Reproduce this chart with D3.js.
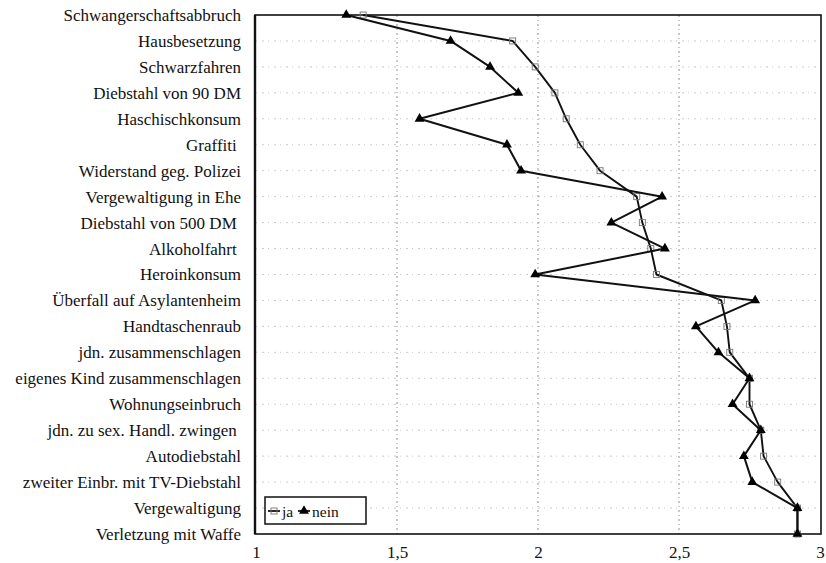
<!DOCTYPE html>
<html>
<head>
<meta charset="utf-8">
<script src="https://cdn.jsdelivr.net/npm/d3@7"></script>
<style>
  html, body { margin: 0; padding: 0; background: #fff; }
  svg text { font-family: "Liberation Serif", "Times New Roman", serif; }
</style>
</head>
<body>
<svg id="chart" width="826" height="563"></svg>
<script>
// Delikte, von oben nach unten
const categories = [
  "Schwangerschaftsabbruch",
  "Hausbesetzung",
  "Schwarzfahren",
  "Diebstahl von 90 DM",
  "Haschischkonsum",
  "Graffiti ",
  "Widerstand geg. Polizei",
  "Vergewaltigung in Ehe",
  "Diebstahl von 500 DM ",
  "Alkoholfahrt ",
  "Heroinkonsum",
  "Überfall auf Asylantenheim",
  "Handtaschenraub",
  "jdn. zusammenschlagen",
  "eigenes Kind zusammenschlagen",
  "Wohnungseinbruch",
  "jdn. zu sex. Handl. zwingen ",
  "Autodiebstahl",
  "zweiter Einbr. mit TV-Diebstahl",
  "Vergewaltigung",
  "Verletzung mit Waffe"
];

// Mittelwerte je Gruppe
const jaValues = [1.38, 1.91, 1.99, 2.06, 2.10, 2.15, 2.22, 2.35, 2.37, 2.40, 2.42,
                  2.65, 2.67, 2.68, 2.75, 2.75, 2.79, 2.80, 2.85, 2.92, 2.92];
const neinValues = [1.32, 1.69, 1.83, 1.93, 1.58, 1.89, 1.94, 2.44, 2.26, 2.45, 1.99,
                    2.77, 2.56, 2.64, 2.75, 2.69, 2.79, 2.73, 2.76, 2.92, 2.92];

const xTicks = [1, 1.5, 2, 2.5, 3];
const gridTicks = [1.5, 2, 2.5];
const seriesNames = ["ja", "nein"];

const svg = d3.select("#chart");
const plotLeft = 256, plotRight = 820, plotTop = 15, plotBottom = 534;

const x = d3.scaleLinear().domain([1, 3]).range([plotLeft, plotRight]);
const y = d3.scalePoint().domain(categories).range([plotTop, plotBottom]);
const fmt = d => String(d).replace(".", ",");

// Raster: gepunktete Linien
const grid = svg.append("g").attr("stroke", "#777").attr("stroke-width", 1);
grid.selectAll("line.h").data(categories.slice(1, -1)).join("line")
  .attr("class", "h")
  .attr("x1", plotLeft).attr("x2", plotRight)
  .attr("y1", d => y(d)).attr("y2", d => y(d))
  .attr("stroke-dasharray", "1,5,2,4")
  .attr("stroke-opacity", 0.4);
grid.selectAll("line.v").data(gridTicks).join("line")
  .attr("class", "v")
  .attr("x1", d => x(d)).attr("x2", d => x(d))
  .attr("y1", plotTop).attr("y2", plotBottom)
  .attr("stroke-dasharray", "2,3,1,3")
  .attr("stroke-opacity", 0.8);

// Rahmen
svg.append("rect")
  .attr("x", plotLeft - 1).attr("y", plotTop)
  .attr("width", plotRight - plotLeft + 2).attr("height", plotBottom - plotTop)
  .attr("fill", "none").attr("stroke", "#111").attr("stroke-width", 1.6);
svg.append("line")
  .attr("x1", plotLeft - 1).attr("x2", plotLeft - 1)
  .attr("y1", plotTop).attr("y2", plotBottom)
  .attr("stroke", "#111").attr("stroke-width", 2.4);

// Kategorienbeschriftung
const yAxis = d3.axisLeft(y).tickSize(0).tickPadding(0);
const ya = svg.append("g").attr("transform", `translate(${plotLeft - 15},0)`).call(yAxis);
ya.select(".domain").remove();
ya.selectAll("text")
  .attr("font-family", "Liberation Serif, serif")
  .attr("font-size", 17)
  .attr("fill", "#111")
  .style("white-space", "pre");

// x-Achse
const xAxis = d3.axisBottom(x).tickValues(xTicks).tickSize(0).tickPadding(0).tickFormat(fmt);
const xa = svg.append("g").attr("transform", `translate(0,${plotBottom + 12})`).call(xAxis);
xa.select(".domain").remove();
xa.selectAll("text")
  .attr("font-family", "Liberation Serif, serif")
  .attr("font-size", 17)
  .attr("fill", "#111");

const line = d3.line().x(d => x(d.v)).y(d => y(d.c));
const jaData = categories.map((c, i) => ({ c, v: jaValues[i] }));
const neinData = categories.map((c, i) => ({ c, v: neinValues[i] }));

const tri = d3.symbol().type(d3.symbolTriangle).size(42);

// Linie "ja" mit offenen Quadraten
svg.append("path").datum(jaData)
  .attr("d", line).attr("fill", "none")
  .attr("stroke", "#111").attr("stroke-width", 1.9).attr("stroke-linejoin", "round");
svg.selectAll("rect.ja").data(jaData).join("rect")
  .attr("class", "ja")
  .attr("x", d => x(d.v) - 3).attr("y", d => y(d.c) - 3)
  .attr("width", 6).attr("height", 6)
  .attr("fill", "none").attr("stroke", "#777").attr("stroke-width", 0.9);

// Linie "nein" mit gefüllten Dreiecken
svg.append("path").datum(neinData)
  .attr("d", line).attr("fill", "none")
  .attr("stroke", "#111").attr("stroke-width", 2).attr("stroke-linejoin", "round");
svg.selectAll("path.nein").data(neinData).join("path")
  .attr("class", "nein")
  .attr("transform", d => `translate(${x(d.v)},${y(d.c)})`)
  .attr("d", tri).attr("fill", "#000");

// Legende
const lg = svg.append("g").attr("transform", "translate(265,497)");
lg.append("rect").attr("width", 101).attr("height", 27)
  .attr("fill", "#fff").attr("stroke", "#111").attr("stroke-width", 1.5);
const items = lg.selectAll("g.item").data(seriesNames).join("g")
  .attr("class", "item")
  .attr("transform", (d, i) => `translate(${i === 0 ? 3 : 33},14)`);
items.append("line").attr("x1", 0).attr("x2", 12).attr("y1", 0).attr("y2", 0)
  .attr("stroke", "#111").attr("stroke-width", 1.8);
items.filter((d, i) => i === 0).append("rect")
  .attr("x", 3).attr("y", -3).attr("width", 6).attr("height", 6)
  .attr("fill", "none").attr("stroke", "#777").attr("stroke-width", 0.9);
items.filter((d, i) => i === 1).append("path")
  .attr("transform", "translate(6,0)").attr("d", tri).attr("fill", "#000");
items.append("text").attr("x", 14).attr("y", 5.5)
  .attr("font-family", "Liberation Sans, Arial, sans-serif")
  .attr("font-size", 15.5).attr("fill", "#111")
  .text(d => d);
</script>
</body>
</html>
